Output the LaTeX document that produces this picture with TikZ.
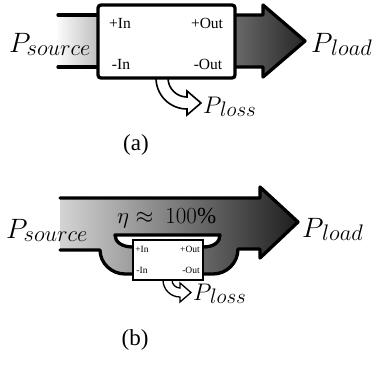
\RequirePackage{fix-cm}
\documentclass[tikz,border=0pt]{standalone}
\usepackage{fontspec}
\setmainfont{Liberation Serif}
\definecolor{srcL}{HTML}{FAFAFA}
\definecolor{srcR}{HTML}{BEBEBE}
\definecolor{outL}{HTML}{6A6A6A}
\definecolor{outR}{HTML}{262626}
\definecolor{bigL}{HTML}{D4D4D4}
\definecolor{bigR}{HTML}{1E1E1E}
\newcommand{\Plab}[4]{\fontsize{#1}{#1}\selectfont$P$\kern#4\raisebox{-3pt}{\fontsize{#2}{#2}\selectfont$#3$}}
\tikzset{
  heavy/.style={line width=3.3pt, line join=round, line cap=round},
  lossarrow/.style={draw, fill=white, line width=1.6pt, line join=miter},
  portA/.style={inner sep=0pt, font=\fontsize{15.5}{15.5}\selectfont},
  portB/.style={inner sep=0pt, font=\fontsize{9.5}{9.5}\selectfont},
  lab/.style={inner sep=0pt, anchor=base west},
  captxt/.style={inner sep=0pt, font=\fontsize{23}{23}\selectfont}
}
\begin{document}
\begin{tikzpicture}[x=1pt,y=-1pt]
\useasboundingbox (0,0) rectangle (374,364);

% ---------------- (a) ----------------
% input band
\shade[left color=srcL,right color=srcR] (58,15) rectangle (98,67);
\draw[heavy] (58,15) -- (98,15);
\draw[heavy] (58,67) -- (98,67);
% output arrow
\shade[left color=outL,right color=outR] (234,15) -- (263,15) -- (263,5) -- (305,41) -- (263,77) -- (263,67) -- (234,67) -- cycle;
\draw[heavy] (234,15) -- (263,15) -- (263,5) -- (305,41) -- (263,77) -- (263,67) -- (234,67);
% loss arrow
\draw[lossarrow] (156,78) .. controls (156,95.1) and (169.9,109) .. (187,109) -- (187,115) -- (201,103) -- (187,91) -- (187,97)
  .. controls (176.5,97) and (168,88.5) .. (168,78) -- cycle;
% converter box
\node[draw, fill=white, line width=3.3pt, rounded corners=3pt, minimum width=137pt, minimum height=73pt, inner sep=0pt] (boxA) at (166.5,41.5) {};
\node[portA] (inA) at (120,23) {+In};
\node[portA] (outA) at (207,23) {+Out};
\node[portA] (ninA) at (121,64) {-In};
\node[portA] (noutA) at (208,64) {-Out};
\node[lab] (srcA) at (9,52) {\Plab{28}{22.5}{source}{-4pt}};
\node[lab] (loadA) at (311,52) {\Plab{28}{22.5}{load}{-1.5pt}};
\node[lab] (lossA) at (203,113) {\Plab{24}{21}{loss}{-1.5pt}};
\node[captxt] (capA) at (136,145) {(a)};

% ---------------- (b) ----------------
\shade[even odd rule, left color=bigL, right color=bigR]
  (60,198) -- (260,198) -- (260,187) -- (298,222) -- (260,258) -- (260,249) -- (238,249)
  .. controls (238,262.8) and (226.8,274) .. (213,274) -- (125,274)
  .. controls (111.2,274) and (100,262.8) .. (100,250) -- (60,250) -- cycle
  (115,235) -- (220,235) .. controls (220,242) and (214,247) .. (203,247) -- (133,247)
  .. controls (122,247) and (115,242) .. (115,235) -- cycle;
\draw[heavy] (60,198) -- (260,198) -- (260,187) -- (298,222) -- (260,258) -- (260,249) -- (238,249)
  .. controls (238,262.8) and (226.8,274) .. (213,274) -- (203,274);
\draw[heavy] (133,274) -- (125,274) .. controls (111.2,274) and (100,262.8) .. (100,250) -- (60,250);
\draw[heavy] (203,247) .. controls (214,247) and (220,242) .. (220,235) -- (115,235)
  .. controls (115,242) and (122,247) .. (133,247);
% loss arrow
\draw[lossarrow, line width=1.3pt] (163,280) .. controls (163,289.4) and (170.6,297) .. (180,297) -- (180,302) -- (191,292.5) -- (180,283) -- (180,288)
  .. controls (175.6,288) and (172,284.4) .. (172,280) -- cycle;
% converter box
\node[draw, fill=white, line width=1.8pt, minimum width=70pt, minimum height=40pt, inner sep=0pt] (boxB) at (168,260) {};
\node[portB] (inB) at (142,249) {+In};
\node[portB] (outB) at (190,249) {+Out};
\node[portB] (ninB) at (142,270) {-In};
\node[portB] (noutB) at (191,270) {-Out};
\node[lab] (srcB) at (6,238) {\Plab{28}{22.5}{source}{-4pt}};
\node[lab] (loadB) at (302,237) {\Plab{28}{22.5}{load}{-1.5pt}};
\node[lab] (eta) at (117,223) {\fontsize{23}{23}\selectfont$\eta\approx$\hspace{12pt}$100\%$};
\node[lab] (lossB) at (193,300) {\Plab{24}{21}{loss}{-1.5pt}};
\node[captxt] (capB) at (135,340) {(b)};
\end{tikzpicture}
\end{document}
